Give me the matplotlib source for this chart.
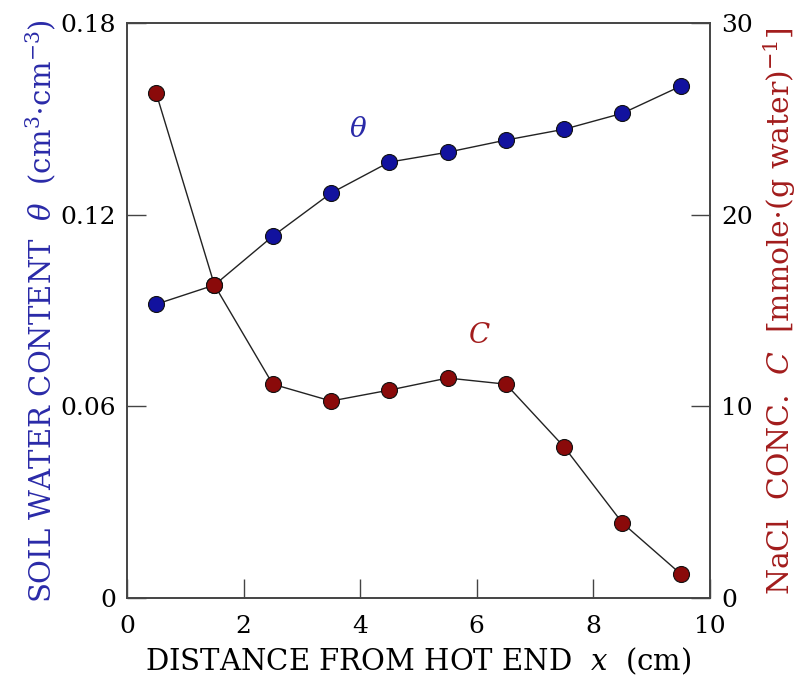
import numpy as np
import matplotlib
matplotlib.use("Agg")
import matplotlib.pyplot as plt

plt.rcParams['font.family'] = ['DejaVu Serif']
plt.rcParams['mathtext.fontset'] = 'dejavuserif'

# distance from hot end (cm)
x = [0.5, 1.5, 2.5, 3.5, 4.5, 5.5, 6.5, 7.5, 8.5, 9.5]
# soil water content theta (cm3/cm3)
theta = [0.0920, 0.0980, 0.1133, 0.1268, 0.1365, 0.1396, 0.1434, 0.1468, 0.1518, 0.1603]
# NaCl concentration C (mmole per g water)
conc = [26.35, 16.33, 11.16, 10.28, 10.85, 11.48, 11.16, 7.88, 3.91, 1.25]

blue = '#12129e'
red = '#8a0a0a'
blue_txt = '#2a2aa8'
red_txt = '#a21c1c'

fig = plt.figure(figsize=(8.04, 6.83), dpi=100)
ax = fig.add_axes([0.158, 0.1245, 0.725, 0.8415])
ax2 = ax.twinx()

ax.plot(x, theta, '-', color='#222222', lw=1.0, marker='o', ms=11.5,
        mfc=blue, mec='#111111', mew=0.8, zorder=3)
ax2.plot(x, conc, '-', color='#222222', lw=1.0, marker='o', ms=11.5,
         mfc=red, mec='#111111', mew=0.8, zorder=3)

ax.set_xlim(0, 10)
ax.set_ylim(0, 0.18)
ax2.set_ylim(0, 30)
ax.set_xticks([0, 2, 4, 6, 8, 10])
ax.set_yticks([0, 0.06, 0.12, 0.18])
ax.set_yticklabels(['0', '0.06', '0.12', '0.18'])
ax2.set_yticks([0, 10, 20, 30])

for a in (ax, ax2):
    for s in a.spines.values():
        s.set_color('#444444')
        s.set_linewidth(1.2)
ax.tick_params(axis='y', direction='in', length=14, width=1.0,
               color='#444444', labelsize=18, pad=8)
ax.tick_params(axis='x', direction='in', length=14, width=1.0,
               color='#444444', labelsize=18, pad=12)
ax2.tick_params(axis='y', direction='in', length=14, width=1.0,
                color='#444444', labelsize=18, pad=8)

ax.set_xlabel(r'DISTANCE FROM HOT END  $x$  (cm)', fontsize=21, labelpad=6)
ax.set_ylabel(r'SOIL WATER CONTENT  $\theta$  (cm$^3$$\cdot$cm$^{-3}$)',
              fontsize=21, color=blue_txt, labelpad=2)
ax2.set_ylabel(r'NaCl  CONC.  $C$  [mmole$\cdot$(g water)$^{-1}$]',
               fontsize=21.5, color=red_txt, labelpad=6)

ax.text(3.8, 0.1445, r'$\theta$', fontsize=20, color=blue_txt)
ax2.text(5.85, 13.3, r'$C$', fontsize=20, color=red_txt)

fig.savefig('out.png', dpi=100)
